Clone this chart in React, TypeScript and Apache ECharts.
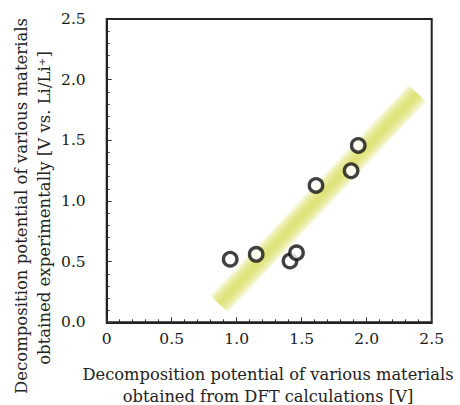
import React, { useEffect, useRef } from "react";
import * as echarts from "echarts";

const dftValues = [0.95, 1.15, 1.41, 1.46, 1.61, 1.88, 1.935];
const expValues = [0.52, 0.56, 0.505, 0.573, 1.128, 1.249, 1.458];
const trendX = [0.866, 2.389];
const trendY = [0.151, 1.886];
const xTitleLines = ["Decomposition potential of various materials", "obtained from DFT calculations [V]"];
const yTitleLines = ["Decomposition potential of various materials", "obtained experimentally [V vs. Li/Li\u207A]"];

const FONT = "DejaVu Serif";

export default function App() {
  const ref = useRef<HTMLDivElement>(null);
  useEffect(() => {
    if (!ref.current) return;
    const chart = echarts.init(ref.current, null, { renderer: "svg" });
    const trend = trendX.map((x, i) => [x, trendY[i]]);
    const pts = dftValues.map((x, i) => [x, expValues[i]]);
    const axisCommon = {
      type: "value" as const,
      min: 0,
      max: 2.5,
      interval: 0.5,
      splitLine: { show: false },
      axisLine: { show: true, onZero: false, lineStyle: { color: "#222", width: 2 } },
      axisTick: { show: true, inside: true, length: 5, lineStyle: { color: "#333", width: 1 } },
      minorTick: { show: true, splitNumber: 5, length: 3, lineStyle: { color: "#333", width: 1 } },
      minorSplitLine: { show: false },
      axisLabel: { color: "#1a1a1a", fontFamily: FONT, fontSize: 15.5 },
    };
    const titleStyle = { fontFamily: FONT, fontSize: 16.3, fill: "#222", align: "center", verticalAlign: "middle" };
    const bandWidths = [24, 20, 16, 12, 8, 4];
    const bandSeries = bandWidths.map((w) => ({
      type: "line",
      data: trend,
      symbol: "none",
      silent: true,
      lineStyle: { width: w, color: "rgba(218,220,90,0.24)", cap: "butt" },
      z: 1,
    }));
    chart.setOption({
      animation: false,
      backgroundColor: "#ffffff",
      grid: {
        left: 106.7,
        right: 28.3,
        top: 19,
        bottom: 82.7,
        show: true,
        borderColor: "#222",
        borderWidth: 2,
        containLabel: false,
        outerBoundsMode: "none",
      },
      graphic: [
        { type: "text", x: 268, y: 374, style: { ...titleStyle, text: xTitleLines[0] } },
        { type: "text", x: 268, y: 396, style: { ...titleStyle, text: xTitleLines[1] } },
        { type: "text", x: 21, y: 206, rotation: Math.PI / 2, style: { ...titleStyle, fontSize: 16.5, text: yTitleLines[0] } },
        { type: "text", x: 44, y: 208, rotation: Math.PI / 2, style: { ...titleStyle, fontSize: 16.5, text: yTitleLines[1] } },
      ],
      xAxis: {
        ...axisCommon,
        axisLabel: {
          ...axisCommon.axisLabel,
          margin: 9,
          formatter: (v: number) => (v === 0 ? "0" : v.toFixed(1)),
        },
      },
      yAxis: {
        ...axisCommon,
        axisLabel: {
          ...axisCommon.axisLabel,
          margin: 21,
          formatter: (v: number) => v.toFixed(1),
        },
      },
      series: [
        ...bandSeries,
        {
          type: "scatter",
          data: pts,
          symbol: "circle",
          symbolSize: 13.5,
          itemStyle: { color: "#ffffff", borderColor: "#111", borderWidth: 3.3 },
          z: 5,
        },
      ],
    });
    return () => chart.dispose();
  }, []);
  return (
    <div
      ref={ref}
      style={{ width: 460, height: 405, position: "absolute", left: 0, top: 0 }}
    />
  );
}
